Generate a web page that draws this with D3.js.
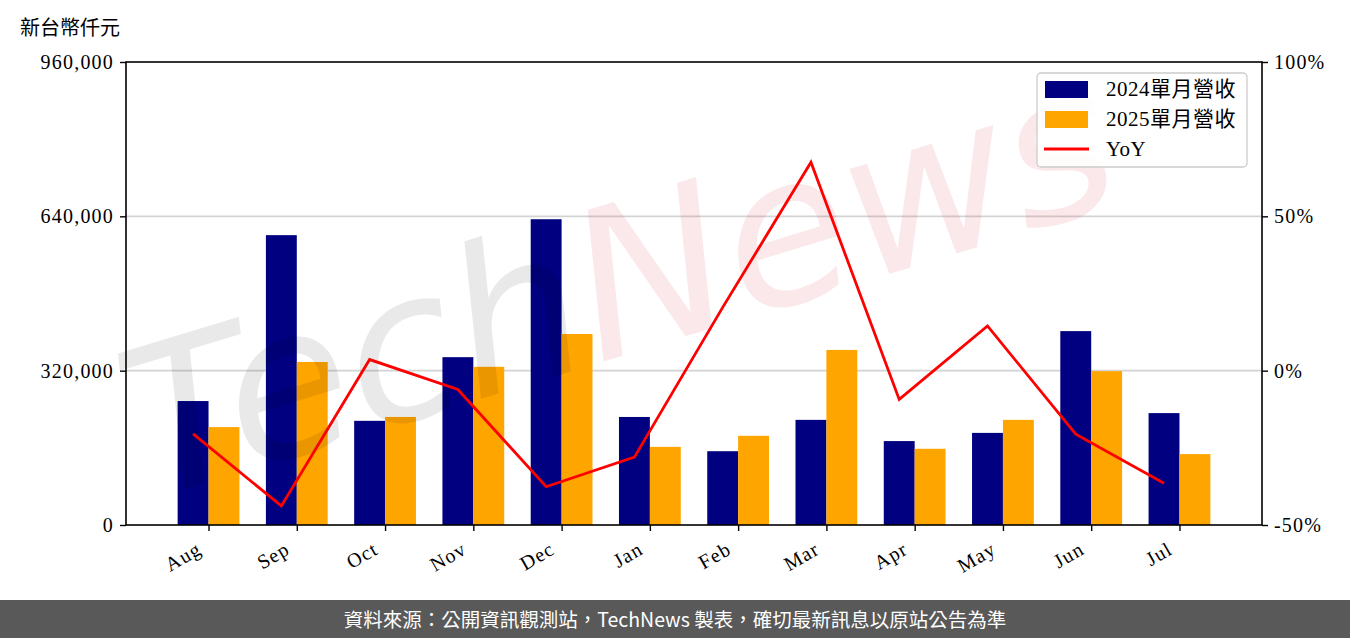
<!DOCTYPE html>
<html><head><meta charset="utf-8">
<script src="https://cdn.jsdelivr.net/npm/d3@7"></script>
<style>
html,body{margin:0;padding:0;background:#fff;}
svg{display:block;}
</style></head>
<body>
<script>
const categories = ["Aug","Sep","Oct","Nov","Dec","Jan","Feb","Mar","Apr","May","Jun","Jul"];
const rev2024 = [257000,601000,216000,348000,634000,224000,153000,218000,174000,191000,402000,232000];
const rev2025 = [203000,338000,224000,328000,396000,162000,185000,363000,158000,218000,319000,147000];
const yoy = [-20.5,-43.8,3.6,-6.1,-37.6,-28.0,20.5,67.5,-9.3,14.5,-20.6,-36.5];
const leftTicks = [0,320000,640000,960000];
const rightTicks = [-50,0,50,100];
const seriesNames = ["2024單月營收","2025單月營收","YoY"];
const unitLabel = "新台幣仟元";
const footerText = "資料來源：公開資訊觀測站，TechNews 製表，確切最新訊息以原站公告為準";

const W=1350,H=638;
const L=126,R=1262,T=62,B=525;
const serif = "'Liberation Serif','DejaVu Serif',serif";
const cjk = "'Noto Sans CJK TC','Noto Sans CJK SC',sans-serif";

const svg = d3.select("body").append("svg").attr("width",W).attr("height",H);

const x = d3.scaleLinear().domain([-0.935,11.935]).range([L,R]);
const yL = d3.scaleLinear().domain([0,960000]).range([B,T]);
const yR = d3.scaleLinear().domain([-50,100]).range([B,T]);
const bw = 0.35;

// gridlines
svg.append("g").selectAll("line").data(leftTicks.filter(d=>d>0 && d<960000)).join("line")
  .attr("x1",L).attr("x2",R).attr("y1",d=>yL(d)).attr("y2",d=>yL(d))
  .attr("stroke","#d3d3d3").attr("stroke-width",1.6);

// bars
svg.append("g").selectAll("rect").data(rev2024).join("rect")
  .attr("x",(d,i)=>x(i-bw)).attr("width",(d,i)=>x(i)-x(i-bw))
  .attr("y",d=>yL(d)).attr("height",d=>yL(0)-yL(d)).attr("fill","#000080");
svg.append("g").selectAll("rect").data(rev2025).join("rect")
  .attr("x",(d,i)=>x(i)).attr("width",(d,i)=>x(i+bw)-x(i))
  .attr("y",d=>yL(d)).attr("height",d=>yL(0)-yL(d)).attr("fill","#ffa500");

// watermark
const wm = svg.append("g").attr("transform","translate(150,500) rotate(-17)");
const wt = wm.append("text").attr("font-family","'DejaVu Sans',sans-serif").attr("font-style","oblique")
  .attr("font-size",205);
wt.append("tspan").attr("fill","#000").attr("fill-opacity",0.085).text("Tech");
wt.append("tspan").attr("fill","#d02030").attr("fill-opacity",0.1).text("News");

// YoY line
const line = d3.line().x((d,i)=>x(i-bw/2)).y(d=>yR(d));
svg.append("path").datum(yoy).attr("d",line).attr("fill","none")
  .attr("stroke","#ff0000").attr("stroke-width",2.8).attr("stroke-linejoin","miter");

// frame
svg.append("rect").attr("x",L).attr("y",T).attr("width",R-L).attr("height",B-T)
  .attr("fill","none").attr("stroke","#000").attr("stroke-width",1.6);

// axes
const axL = svg.append("g").attr("transform",`translate(${L},0)`)
  .call(d3.axisLeft(yL).tickValues(leftTicks).tickFormat(d3.format(",")).tickSize(6).tickPadding(6));
const axR = svg.append("g").attr("transform",`translate(${R},0)`)
  .call(d3.axisRight(yR).tickValues(rightTicks).tickFormat(d=>d+"%").tickSize(6).tickPadding(6));
const axB = svg.append("g").attr("transform",`translate(0,${B})`)
  .call(d3.axisBottom(x).tickValues(d3.range(categories.length)).tickFormat(i=>categories[i]).tickSize(6).tickPadding(4));
[axL,axR,axB].forEach(a=>{
  a.select(".domain").remove();
  a.selectAll(".tick line").attr("stroke","#000").attr("stroke-width",1.4);
  a.selectAll(".tick text").attr("font-family",serif).attr("font-size",20).attr("letter-spacing","1.2px").attr("fill","#000");
});
axB.selectAll(".tick text").attr("text-anchor","end").attr("dy",0).attr("y",0)
  .attr("transform","translate(-6,28) rotate(-30)");

// unit label
svg.append("text").attr("x",20).attr("y",35).attr("font-family",cjk).attr("font-size",20)
  .attr("fill","#000").text(unitLabel);

// legend
const lg = svg.append("g");
lg.append("rect").attr("x",1037).attr("y",73).attr("width",210).attr("height",94).attr("rx",4)
  .attr("fill","#fff").attr("fill-opacity",0.85).attr("stroke","#cccccc").attr("stroke-width",1.3);
const rowsY=[89,119,149];
lg.append("rect").attr("x",1045).attr("y",rowsY[0]-8).attr("width",43).attr("height",17).attr("fill","#000080");
lg.append("rect").attr("x",1045).attr("y",rowsY[1]-8).attr("width",43).attr("height",17).attr("fill","#ffa500");
lg.append("line").attr("x1",1044).attr("x2",1089).attr("y1",rowsY[2]).attr("y2",rowsY[2])
  .attr("stroke","#ff0000").attr("stroke-width",3);
seriesNames.forEach((s,i)=>{
  lg.append("text").attr("x",1106).attr("y",rowsY[i]+7).attr("font-family",serif+","+cjk)
    .attr("font-size",21).attr("letter-spacing","0.5px").attr("fill","#000").text(s);
});

// footer
svg.append("rect").attr("x",0).attr("y",600).attr("width",W).attr("height",38).attr("fill","#595959");
svg.append("text").attr("x",675).attr("y",627).attr("text-anchor","middle").attr("font-family",cjk)
  .attr("font-size",19.5).attr("fill","#fff").text(footerText);
</script>
</body></html>
